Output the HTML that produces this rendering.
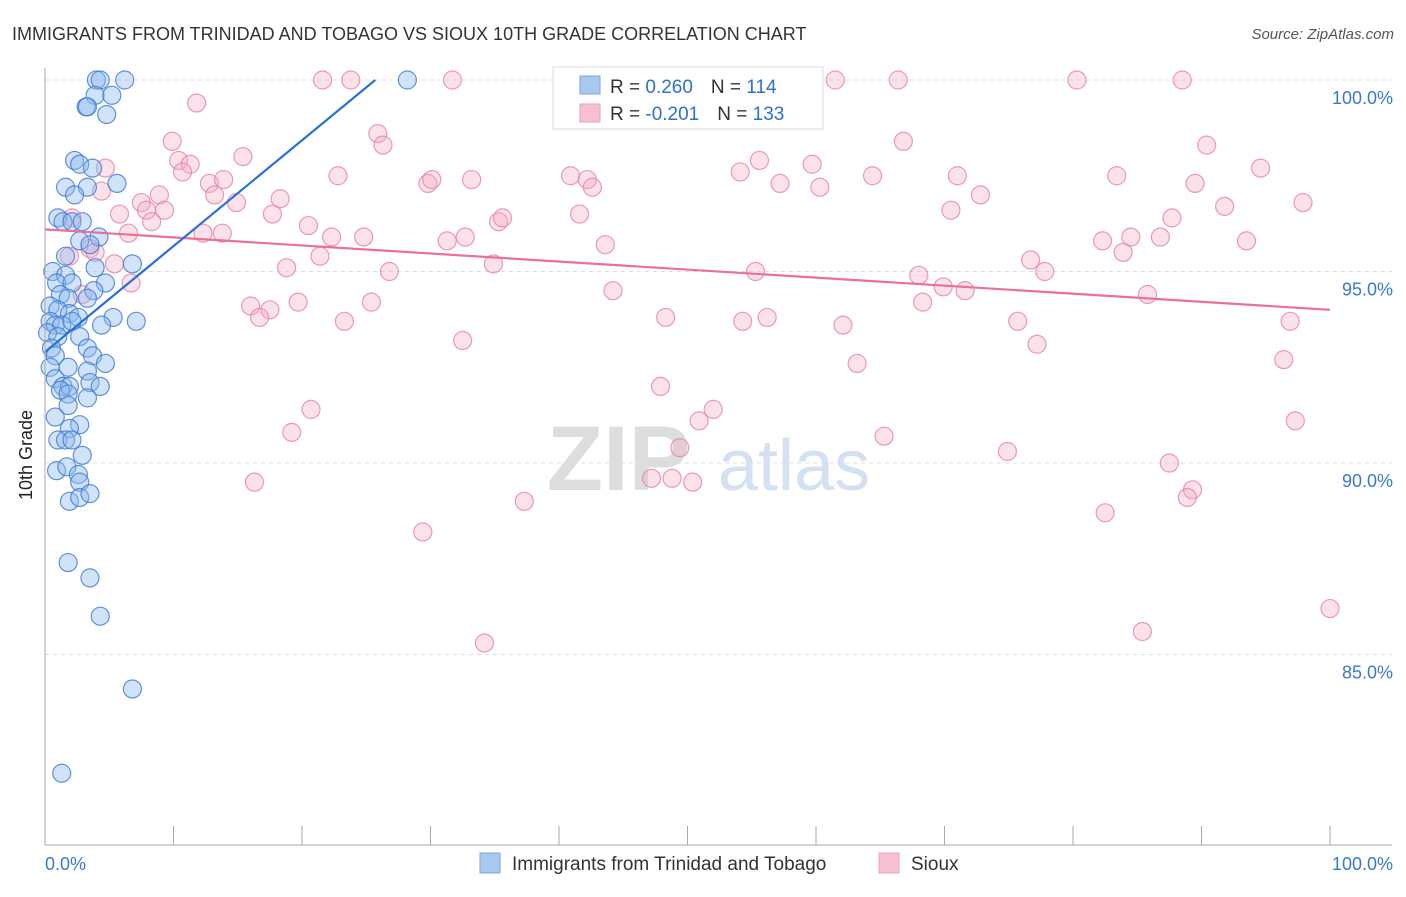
<!DOCTYPE html>
<html><head><meta charset="utf-8"><style>
body{margin:0;background:#fff;font-family:"Liberation Sans",sans-serif}
svg text{font-family:"Liberation Sans",sans-serif}
</style></head><body>
<svg id="c" width="1406" height="892">
<text x="12" y="40" font-size="18" fill="#333">IMMIGRANTS FROM TRINIDAD AND TOBAGO VS SIOUX 10TH GRADE CORRELATION CHART</text>
<text x="1394" y="39" font-size="15" fill="#555" text-anchor="end" font-style="italic">Source: ZipAtlas.com</text>
<g id="grid"></g>
<text x="690" y="490" font-size="92" fill="#ddd" text-anchor="end" font-family="Liberation Serif" font-weight="bold">ZIP</text>
<text x="718" y="490" font-size="72" fill="#d3e1f2">atlas</text>
<g id="pts"></g>
<g id="trends"></g>
<g id="axes"></g>
<text x="32" y="455" font-size="18" fill="#222" text-anchor="middle" transform="rotate(-90 32 455)">10th Grade</text>
<g>
<rect x="553" y="67" width="270" height="62" fill="#fff" stroke="#ddd"/>
<rect x="580" y="76" width="20" height="18" fill="#a9c8f0" stroke="#7aa7e0"/>
<rect x="580" y="104" width="20" height="18" fill="#f7c0d0" stroke="#eba2b8"/>
<text x="610" y="93" font-size="19" fill="#333">R = <tspan fill="#2f6fd0">0.260</tspan><tspan dx="18">N = </tspan><tspan fill="#2f6fd0">114</tspan></text>
<text x="610" y="120" font-size="19" fill="#333">R = <tspan fill="#2f6fd0">-0.201</tspan><tspan dx="18">N = </tspan><tspan fill="#2f6fd0">133</tspan></text>
</g>
<g>
<rect x="480" y="853" width="20" height="20" fill="#a9c8f0" stroke="#7aa7e0"/>
<text x="512" y="870" font-size="19" fill="#333">Immigrants from Trinidad and Tobago</text>
<rect x="879" y="853" width="20" height="20" fill="#f7c0d0" stroke="#eba2b8"/>
<text x="911" y="870" font-size="19" fill="#333">Sioux</text>
</g>
</svg>
<script>
const yTicks=[100,95,90,85];
const yTickLabels=["100.0%","95.0%","90.0%","85.0%"];
const xTickLabels=["0.0%","100.0%"];
const blueX=[4.0,4.3,6.2,28.2,3.9,5.2,3.2,3.3,4.8,2.3,2.7,3.7,5.6,1.6,3.3,2.3,1.0,1.4,2.1,2.9,2.7,4.2,3.5,1.6,6.8,3.9,0.6,1.6,0.9,2.1,4.7,3.8,1.2,1.8,3.3,0.4,1.0,1.9,2.6,5.3,7.1,0.4,0.8,1.3,2.1,4.4,0.2,1.0,2.7,0.5,3.3,0.8,3.7,4.7,0.4,1.8,3.3,0.8,1.4,1.9,3.5,4.3,1.2,1.8,3.3,1.8,0.8,2.7,1.9,1.0,1.6,2.1,2.9,0.9,1.7,2.6,2.7,1.9,2.7,3.5,1.8,3.5,4.3,6.8,1.3];
const blueY=[100,100,100,100,99.6,99.6,99.3,99.3,99.1,97.9,97.8,97.7,97.3,97.2,97.2,97.0,96.4,96.3,96.3,96.3,95.8,95.9,95.7,95.4,95.2,95.1,95.0,94.9,94.7,94.7,94.7,94.5,94.4,94.3,94.3,94.1,94.0,93.9,93.8,93.8,93.7,93.7,93.6,93.6,93.7,93.6,93.4,93.3,93.3,93.0,93.0,92.8,92.8,92.6,92.5,92.5,92.4,92.2,92.0,92.0,92.1,92.0,91.9,91.8,91.7,91.5,91.2,91.0,90.9,90.6,90.6,90.6,90.2,89.8,89.9,89.7,89.5,89.0,89.1,89.2,87.4,87.0,86.0,84.1,81.9];
const pinkX=[21.6,23.8,31.7,43.6,45.6,61.5,66.4,80.3,88.5,11.8,9.9,25.9,26.3,66.8,90.4,15.4,10.4,11.3,10.7,4.7,55.6,54.1,59.7,94.6,83.4,12.8,13.9,22.8,29.8,30.1,33.2,40.9,42.2,42.6,57.2,60.3,64.4,71.0,89.5,4.4,8.9,13.2,18.3,72.8,7.5,14.9,97.9,91.8,5.8,7.9,9.3,8.3,17.7,41.6,70.5,87.7,2.1,35.3,35.6,6.5,12.3,13.8,20.5,22.3,24.8,31.3,32.7,82.3,84.5,86.8,93.5,43.6,83.9,3.5,3.9,1.9,21.4,34.9,5.4,76.7,18.8,26.8,55.3,77.8,68.0,69.9,71.6,6.7,2.9,44.2,85.8,25.4,19.7,16.0,17.5,68.3,16.7,23.3,48.3,54.3,56.2,62.1,75.7,96.9,32.5,77.2,63.2,96.4,47.9,52.0,50.9,20.7,19.2,65.3,97.3,49.4,74.9,87.5,16.3,47.2,48.8,50.4,89.3,88.9,37.3,82.5,29.4,85.4,34.2,100];
const pinkY=[100,100,100,100,100,100,100,100,100,99.4,98.4,98.6,98.3,98.4,98.3,98.0,97.9,97.8,97.6,97.7,97.9,97.6,97.8,97.7,97.5,97.3,97.4,97.5,97.3,97.4,97.4,97.5,97.4,97.2,97.3,97.2,97.5,97.5,97.3,97.1,97.0,97.0,96.9,97.0,96.8,96.8,96.8,96.7,96.5,96.6,96.6,96.3,96.5,96.5,96.6,96.4,96.4,96.3,96.4,96.0,96.0,96.0,96.2,95.9,95.9,95.8,95.9,95.8,95.9,95.9,95.8,95.7,95.5,95.6,95.5,95.4,95.4,95.2,95.2,95.3,95.1,95.0,95.0,95.0,94.9,94.6,94.5,94.7,94.4,94.5,94.4,94.2,94.2,94.1,94.0,94.2,93.8,93.7,93.8,93.7,93.8,93.6,93.7,93.7,93.2,93.1,92.6,92.7,92.0,91.4,91.1,91.4,90.8,90.7,91.1,90.4,90.3,90.0,89.5,89.6,89.6,89.5,89.3,89.1,89.0,88.7,88.2,85.6,85.3,86.2];
const blueTrend=[[0,92.9],[25.7,100]];
const pinkTrend=[[0,96.1],[100,94.0]];
const NS="http://www.w3.org/2000/svg";
const X=v=>45+v*12.85, Y=v=>80+(100-v)*38.3;
function mk(tag,attrs,parent){const e=document.createElementNS(NS,tag);for(const k in attrs)e.setAttribute(k,attrs[k]);parent.appendChild(e);return e;}
const grid=document.getElementById('grid'),axes=document.getElementById('axes'),pts=document.getElementById('pts'),tr=document.getElementById('trends');
yTicks.forEach((t,i)=>{
 const l=mk('line',{x1:45,x2:1392,y1:Y(t),y2:Y(t),stroke:'#ddd','stroke-dasharray':'4,4'},grid);
 
 
 const tx=mk('text',{x:1393,y:Y(t)+24,'font-size':18,fill:'#3a78d0','text-anchor':'end'},axes);
 tx.textContent=yTickLabels[i];
 
 
});
const ya=mk('line',{x1:45,x2:45,y1:68,y2:845,stroke:'#aaa'},axes);


const xa=mk('line',{x1:45,x2:1392,y1:845,y2:845,stroke:'#aaa'},axes);


for(let i=0;i<=10;i++){const t=mk('line',{x1:X(i*10),x2:X(i*10),y1:826,y2:845,stroke:'#aaa'},axes);
 
 }
[[0,'start',45],[100,'end',1393]].forEach((d,i)=>{const t=mk('text',{x:d[2],y:870,'font-size':18,fill:'#3a78d0','text-anchor':d[1]},axes);t.textContent=xTickLabels[i];
 
 });
function dots(xs,ys,fill,stroke,name){xs.forEach((x,i)=>{const c=mk('circle',{cx:X(x),cy:Y(ys[i]),r:9,fill:fill,stroke:stroke,'stroke-width':1.2},pts);
 
 });}
dots(pinkX,pinkY,'rgba(244,170,195,0.35)','rgba(230,130,165,0.8)','sioux-point');
dots(blueX,blueY,'rgba(140,185,240,0.4)','rgba(60,120,210,0.8)','trinidad-point');
function line(d,col,name){const l=mk('line',{x1:X(d[0][0]),y1:Y(d[0][1]),x2:X(d[1][0]),y2:Y(d[1][1]),stroke:col,'stroke-width':2.2},tr);
 
 }
line(pinkTrend,'#e8709a','sioux-trend-line');
line(blueTrend,'#2a6fd6','trinidad-trend-line');
</script>
</body></html>
